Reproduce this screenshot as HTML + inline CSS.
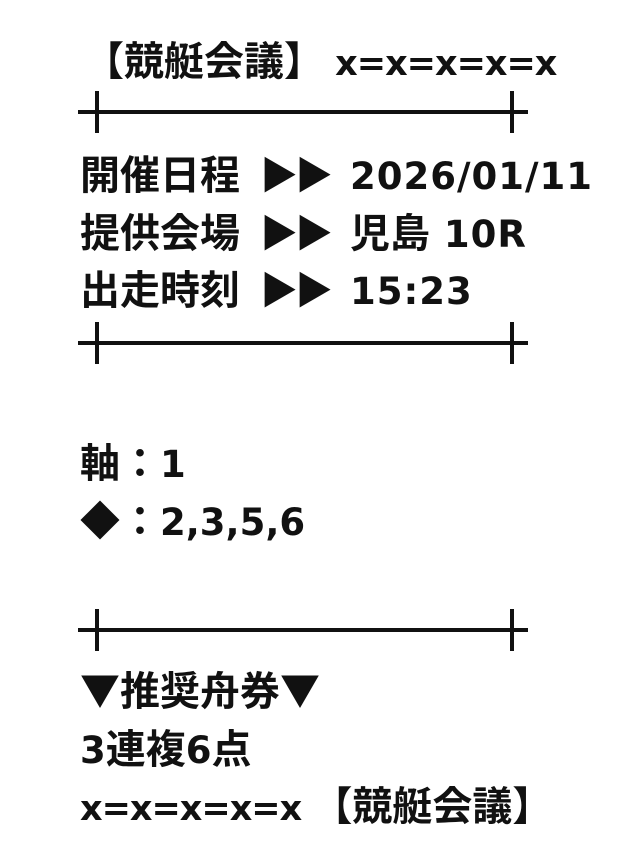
<!DOCTYPE html>
<html><head><meta charset="utf-8"><style>
html,body{margin:0;padding:0;background:#fff;width:640px;height:852px;overflow:hidden;position:relative}
.t{position:absolute;left:80px;font-family:"DejaVu Sans","Noto Sans CJK JP",sans-serif;font-size:37px;font-weight:bold;color:#111;line-height:40px;white-space:nowrap}
.d{letter-spacing:1px}
.l{letter-spacing:-1px;font-size:35px}
.j{font-family:"Noto Sans CJK JP",sans-serif;font-weight:700;font-size:40px;letter-spacing:0}
.a{font-family:"Noto Sans CJK JP",sans-serif;font-size:38px;font-weight:700;letter-spacing:-3px;margin:0 20px 0 20px}
.sep{position:absolute;left:78px;width:450px;height:4px;background:#111}
.tick{position:absolute;width:4px;height:42px;background:#111}
</style></head><body>
<div class="t l" style="top:38px;left:84px"><span class="j">【競艇会議】</span> x=x=x=x=x</div>
<div class="sep" style="top:110px"></div><div class="tick" style="left:95px;top:91px"></div><div class="tick" style="left:510px;top:91px"></div>
<div class="t d" style="top:152px"><span class="j">開催日程</span><span class="a">▶▶</span>2026/01/11</div>
<div class="t d" style="top:210px"><span class="j">提供会場</span><span class="a">▶▶</span><span class="j">児島</span> 10R</div>
<div class="t d" style="top:267px"><span class="j">出走時刻</span><span class="a">▶▶</span>15:23</div>
<div class="sep" style="top:341px"></div><div class="tick" style="left:95px;top:322px"></div><div class="tick" style="left:510px;top:322px"></div>
<div class="t" style="top:440px"><span class="j">軸：</span>1</div>
<div class="t" style="top:498px"><span class="j">◆：</span>2,3,5,6</div>
<div class="sep" style="top:628px"></div><div class="tick" style="left:95px;top:609px"></div><div class="tick" style="left:510px;top:609px"></div>
<div class="t" style="top:668px"><span class="j">▼推奨舟券▼</span></div>
<div class="t" style="top:726px">3<span class="j">連複</span>6<span class="j">点</span></div>
<div class="t l" style="top:783px">x=x=x=x=x <span class="j">【競艇会議】</span></div>
</body></html>
